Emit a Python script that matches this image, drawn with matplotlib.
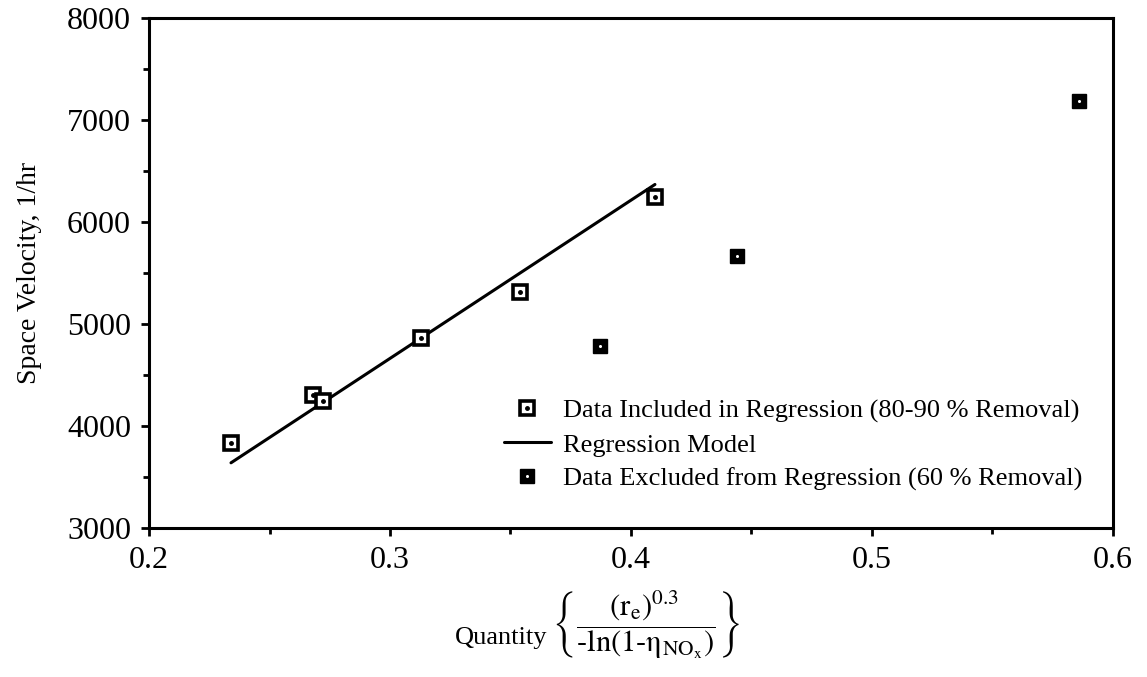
import matplotlib
matplotlib.use("Agg")
from matplotlib import pyplot as plt
from matplotlib.ticker import MultipleLocator

# data
incl_x = [0.234, 0.268, 0.272, 0.313, 0.354, 0.410]
incl_y = [3835, 4305, 4245, 4865, 5315, 6250]
excl_x = [0.387, 0.444, 0.586]
excl_y = [4790, 5665, 7190]
fit_x = [0.234, 0.410]
fit_y = [3640, 6370]

plt.rcParams['font.family'] = ['Liberation Serif', 'DejaVu Serif']
plt.rcParams['mathtext.fontset'] = 'stix'

fig = plt.figure(figsize=(11.47, 6.77), dpi=100)
ax = fig.add_axes([0.130, 0.220, 0.840, 0.753])

line, = ax.plot(fit_x, fit_y, color='black', lw=2.2, solid_capstyle='round')
sq, = ax.plot(incl_x, incl_y, ls='none', marker='s', ms=9.5, mfc='white', mec='black', mew=2.6)
dot, = ax.plot(incl_x, incl_y, ls='none', marker='o', ms=2.5, color='black')
ex, = ax.plot(excl_x, excl_y, ls='none', marker='s', ms=10, color='black')
exdot, = ax.plot(excl_x, excl_y, ls='none', marker='o', ms=1.2, color='white')

ax.set_xlim(0.2, 0.6)
ax.set_ylim(3000, 8000)
ax.xaxis.set_major_locator(MultipleLocator(0.1))
ax.xaxis.set_minor_locator(MultipleLocator(0.05))
ax.yaxis.set_major_locator(MultipleLocator(1000))
ax.yaxis.set_minor_locator(MultipleLocator(500))
ax.tick_params(which='both', direction='out', width=2, labelsize=23)
ax.tick_params(which='major', length=6, pad=7)
ax.tick_params(which='minor', length=4)
for s in ax.spines.values():
    s.set_linewidth(2.2)

ax.set_ylabel('Space Velocity, 1/hr', fontsize=20, labelpad=18)

# x label: plain word plus a larger bracketed fraction (hyphens as in the original)
ax.text(0.317, -0.215, 'Quantity', transform=ax.transAxes, ha='left', va='center', fontsize=19)
ax.text(0.418, -0.19,
        '$\\left\\{\\dfrac{(\\mathrm{r_e})^{\\mathit{0.3}}}'
        '{\\mathrm{\u2010ln(1\u2010\\eta_{NO_x})}}\\right\\}$',
        transform=ax.transAxes, ha='left', va='center', fontsize=22)

ax.legend([(sq, dot), line, (ex, exdot)],
          ['Data Included in Regression (80-90 % Removal)',
           'Regression Model',
           'Data Excluded from Regression (60 % Removal)'],
          loc='center left', bbox_to_anchor=(0.368, 0.163), frameon=False,
          fontsize=19, borderpad=0, borderaxespad=0, handlelength=1.8,
          handletextpad=0.45, labelspacing=0.4)

fig.savefig('out.png', dpi=100)
